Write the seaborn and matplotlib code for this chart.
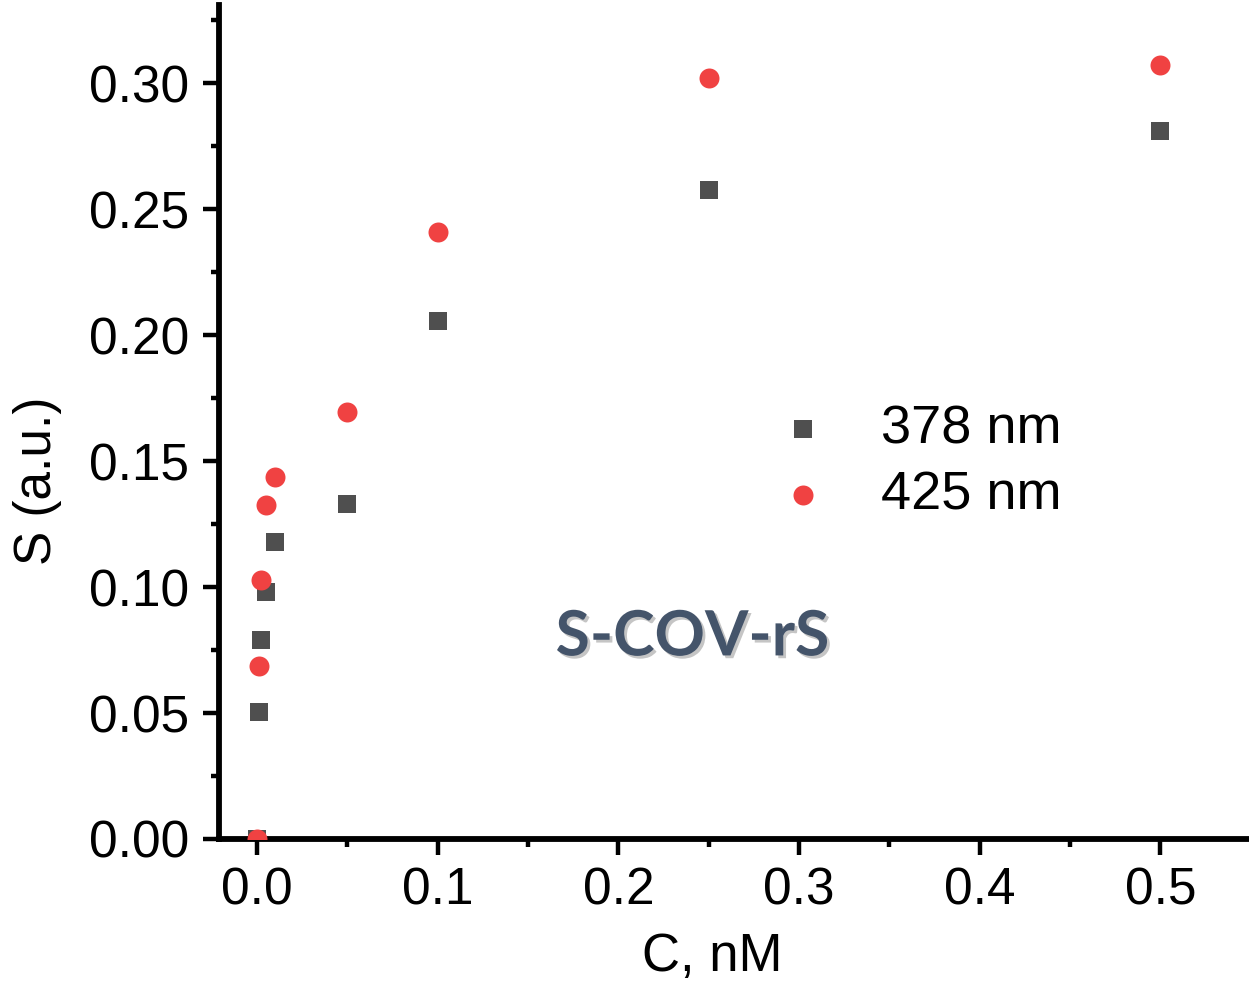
import matplotlib
matplotlib.use("Agg")
import numpy as np
import pandas as pd
import seaborn as sns
import matplotlib.pyplot as plt
import matplotlib.patheffects as pe
from matplotlib.ticker import MultipleLocator, FormatStrFormatter

# ---- data ----
conc = [0.0, 0.001, 0.0025, 0.005, 0.01, 0.05, 0.1, 0.25, 0.5]
s_378 = [0.0, 0.0505, 0.079, 0.098, 0.118, 0.133, 0.2055, 0.2575, 0.281]
s_425 = [0.0, 0.0687, 0.1028, 0.1325, 0.1438, 0.1694, 0.2409, 0.302, 0.3071]
series_labels = ["378 nm", "425 nm"]
x_label = "C, nM"
y_label = "S (a.u.)"
annotation = "S-COV-rS"

sns.set_style("ticks")
plt.rcParams["font.family"] = ["Liberation Sans", "DejaVu Sans"]
plt.rcParams["axes.edgecolor"] = "black"
plt.rcParams["xtick.color"] = "black"
plt.rcParams["ytick.color"] = "black"
plt.rcParams["text.color"] = "black"
plt.rcParams["axes.labelcolor"] = "black"

W, H = 1249, 984
fig = plt.figure(figsize=(W / 100, H / 100), dpi=100)
left_px, right_px, top_px, bottom_px = 219, 1249, 5, 839
ax = fig.add_axes([left_px / W, (H - bottom_px) / H,
                   (right_px - left_px) / W, (bottom_px - top_px) / H])

df_378 = pd.DataFrame({"C": conc, "S": s_378})
df_425 = pd.DataFrame({"C": conc, "S": s_425})

sns.scatterplot(data=df_378, x="C", y="S", marker="s", color="#4f4f4f",
                s=169, linewidth=0, ax=ax, label=series_labels[0], zorder=3)
sns.scatterplot(data=df_425, x="C", y="S", marker="o", color="#f04242",
                s=207, linewidth=0, ax=ax, label=series_labels[1], zorder=4)

ax.set_xlim(-0.021, 0.549)
ax.set_ylim(0.0, 0.331)
ax.xaxis.set_major_locator(MultipleLocator(0.1))
ax.xaxis.set_minor_locator(MultipleLocator(0.05))
ax.yaxis.set_major_locator(MultipleLocator(0.05))
ax.yaxis.set_minor_locator(MultipleLocator(0.025))
ax.xaxis.set_major_formatter(FormatStrFormatter("%.1f"))
ax.yaxis.set_major_formatter(FormatStrFormatter("%.2f"))

for side in ["top", "right"]:
    ax.spines[side].set_visible(False)
for side in ["left", "bottom"]:
    ax.spines[side].set_linewidth(4.2)
    ax.spines[side].set_color("black")

ax.tick_params(which="major", direction="out", length=11.5, width=3.2, labelsize=37, pad=8)
ax.tick_params(which="minor", direction="out", length=6, width=3.2)
ax.tick_params(axis="y", which="major", pad=10)

ax.set_xlabel(x_label, fontsize=38)
ax.set_ylabel(y_label, fontsize=37)
ax.xaxis.set_label_coords(0.479, -0.112)
ax.yaxis.set_label_coords(-0.152, 0.43)

leg = ax.legend(frameon=False, fontsize=39, loc="upper left",
                bbox_to_anchor=(0.5146, 0.5215), borderpad=0,
                handletextpad=0.43, labelspacing=0.30, handlelength=2.0,
                borderaxespad=0)

ax.text(0.241, 0.080, annotation, fontsize=45, fontweight="bold",
        family=["Lato", "DejaVu Sans"], color="#44546a",
        ha="center", va="center",
        path_effects=[pe.SimplePatchShadow(offset=(2, -2), shadow_rgbFace="#7f7f7f", alpha=0.45),
                      pe.Normal()])

fig.savefig("out.png", dpi=100)
